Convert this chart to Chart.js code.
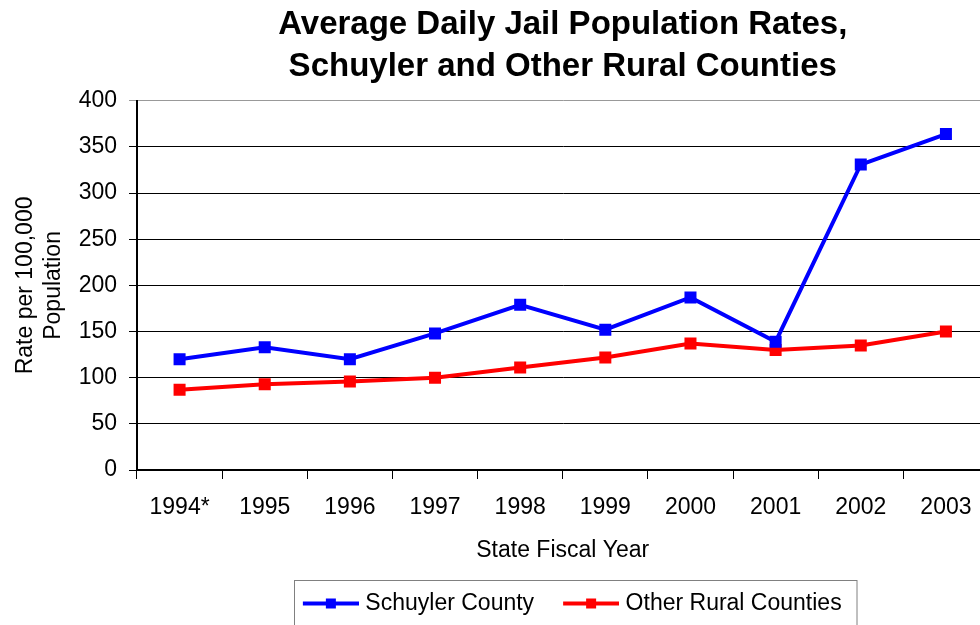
<!DOCTYPE html>
<html>
<head>
<meta charset="utf-8">
<script src="https://cdn.jsdelivr.net/npm/chart.js@4.4.0/dist/chart.umd.min.js"></script>
<style>
  html, body { margin: 0; padding: 0; background: #fff; overflow: hidden; }
  #wrap { width: 980px; height: 625px; overflow: hidden; position: relative; }
  #box { width: 997px; height: 640px; }
</style>
</head>
<body>
<div id="wrap"><div id="box"><canvas id="chart"></canvas></div></div>
<script>
// datos
const years = ["1994*", "1995", "1996", "1997", "1998", "1999", "2000", "2001", "2002", "2003"];
const schuyler = [120, 133, 120, 148, 179, 152, 187, 139, 331, 364];
const otherRural = [87, 93, 96, 100, 111, 122, 137, 130, 135, 150];
const yTicks = [0, 50, 100, 150, 200, 250, 300, 350, 400];

const FONT = "'Liberation Sans', Arial, sans-serif";

// icono de leyenda: linea con marcador cuadrado (con hueco a la izquierda)
function legendIcon(color) {
    const c = document.createElement("canvas");
    c.width = 80;
    c.height = 14;
    const g = c.getContext("2d");
    g.strokeStyle = color;
    g.lineWidth = 4;
    g.beginPath();
    g.moveTo(24, 7);
    g.lineTo(80, 7);
    g.stroke();
    g.fillStyle = color;
    g.fillRect(47, 2, 10, 10);
    return c;
}
const icons = [legendIcon("#0000ff"), legendIcon("#ff0000")];

// marco alrededor de la leyenda
const legendFrame = {
    id: "legendFrame",
    afterDraw(chart) {
        const boxes = chart.legend.legendHitBoxes;
        if (!boxes || !boxes.length) return;
        let x1 = Infinity, x2 = -Infinity, y1 = Infinity;
        boxes.forEach(b => {
            x1 = Math.min(x1, b.left);
            x2 = Math.max(x2, b.left + b.width);
            y1 = Math.min(y1, b.top);
        });
        const ctx = chart.ctx;
        ctx.save();
        ctx.strokeStyle = "#808080";
        ctx.lineWidth = 1;
        const left = Math.round(x1 + 10) + 0.5;
        const top = Math.round(y1 - 12) + 0.5;
        ctx.strokeRect(left, top, Math.round(x2 + 15) - left, 60);
        ctx.restore();
    }
};

new Chart(document.getElementById("chart"), {
    type: "line",
    data: {
        labels: years,
        datasets: [{
            label: "Schuyler County",
            data: schuyler,
            borderColor: "#0000ff",
            backgroundColor: "#0000ff",
            borderWidth: 4,
            pointStyle: "rect",
            pointRadius: 8.5,
            pointBorderWidth: 0,
            tension: 0
        }, {
            label: "Other Rural Counties",
            data: otherRural,
            borderColor: "#ff0000",
            backgroundColor: "#ff0000",
            borderWidth: 4,
            pointStyle: "rect",
            pointRadius: 8.5,
            pointBorderWidth: 0,
            tension: 0
        }]
    },
    options: {
        responsive: true,
        maintainAspectRatio: false,
        animation: false,
        layout: { padding: { top: 4, left: 0, right: 4, bottom: 15 } },
        plugins: {
            title: {
                display: true,
                fullSize: false,
                text: ["Average Daily Jail Population Rates,", "Schuyler and Other Rural Counties"],
                color: "#000",
                font: { family: FONT, size: 33, weight: "bold", lineHeight: 1.27 },
                padding: { top: 0, bottom: 13 }
            },
            legend: {
                position: "bottom",
                fullSize: false,
                labels: {
                    usePointStyle: true,
                    pointStyleWidth: 70,
                    color: "#000",
                    font: { family: FONT, size: 23 },
                    padding: 10,
                    generateLabels(chart) {
                        const items = Chart.defaults.plugins.legend.labels.generateLabels(chart);
                        return items.map((it, i) => Object.assign(it, { pointStyle: icons[i] }));
                    }
                }
            },
            tooltip: { enabled: false }
        },
        scales: {
            x: {
                offset: true,
                grid: {
                    offset: true,
                    drawOnChartArea: false,
                    drawTicks: true,
                    tickLength: 9,
                    color: "#000"
                },
                border: { color: "#000", width: 2 },
                ticks: {
                    color: "#000",
                    font: { family: FONT, size: 23 },
                    padding: 15,
                    maxRotation: 0,
                    autoSkip: false
                },
                title: {
                    display: true,
                    text: "State Fiscal Year",
                    color: "#000",
                    font: { family: FONT, size: 23 },
                    padding: { top: 4, bottom: 18 }
                },
                afterFit(scale) { scale.height = 112; }
            },
            y: {
                min: 0,
                max: 400,
                afterBuildTicks(scale) { scale.ticks = yTicks.map(v => ({ value: v })); },
                grid: {
                    color: ctx => (ctx.tick && ctx.tick.value === 400 ? "#999" : "#000"),
                    drawTicks: true,
                    tickLength: 8
                },
                border: { color: "#000", width: 2 },
                ticks: {
                    color: "#000",
                    font: { family: FONT, size: 23 },
                    padding: 12
                },
                title: {
                    display: true,
                    text: ["Rate per 100,000", "Population"],
                    color: "#000",
                    font: { family: FONT, size: 23, lineHeight: 1.2 },
                    padding: { top: 12, bottom: 0 }
                },
                afterFit(scale) { scale.width = 137; }
            }
        }
    },
    plugins: [legendFrame]
});
</script>
</body>
</html>
